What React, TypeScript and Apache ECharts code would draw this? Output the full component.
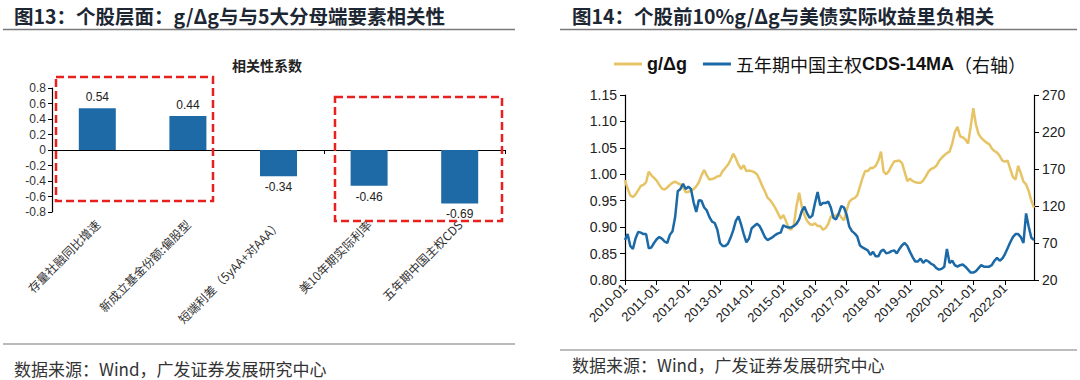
import React, { useEffect, useRef } from "react";
import * as echarts from "echarts";

// ---- Left chart data ----
const barCategories = [
  "存量社融同比增速",
  "新成立基金份额:偏股型",
  "短端利差（5yAA+对AAA）",
  "美10年期实际利率",
  "五年期中国主权CDS",
];
const barValues = [0.54, 0.44, -0.34, -0.46, -0.69];
const barYTicks = { min: -0.8, max: 0.8, interval: 0.2 };

// ---- Right chart data (monthly, 2010-01 .. 2022-12) ----
const startYear = 2010;
const endYear = 2022;
const months: string[] = [];
for (let y = startYear; y <= endYear; y++) {
  for (let m = 1; m <= 12; m++) months.push(`${y}-${m < 10 ? "0" + m : m}`);
}
const gdg = [
  0.989, 0.973, 0.96, 0.957, 0.962, 0.97, 0.978, 0.98, 0.985, 1.005, 0.998, 0.993,
  0.988, 0.98, 0.973, 0.971, 0.975, 0.98, 0.984, 0.986, 0.983, 0.981, 0.975, 0.966,
  0.967, 0.969, 0.972, 0.977, 0.985, 0.998, 1.008, 0.998, 0.99, 0.991, 0.993, 0.996,
  0.997, 1.006, 1.012, 1.018, 1.027, 1.039, 1.03, 1.018, 1.01, 1.017, 1.006, 1.007,
  1.006, 1.004, 1.0, 0.99, 0.978, 0.968, 0.956, 0.951, 0.944, 0.936, 0.926, 0.916,
  0.923, 0.912, 0.898, 0.895, 0.905, 0.94, 0.965, 0.939, 0.923, 0.912, 0.906, 0.904,
  0.907, 0.902, 0.902, 0.895, 0.898, 0.906, 0.92, 0.921, 0.922, 0.926, 0.918, 0.913,
  0.932, 0.948, 0.953, 0.955, 0.96, 0.976, 0.993, 1.006, 1.006, 1.012, 1.012, 1.016,
  1.026, 1.043, 1.005, 1.0, 1.006, 1.016, 1.024, 1.025, 1.026, 1.021, 1.004, 0.987,
  0.992, 0.987, 0.985, 0.984, 0.984, 0.988, 0.996, 1.005, 1.01, 1.012, 1.016, 1.025,
  1.031, 1.036, 1.04, 1.043, 1.058, 1.08, 1.09, 1.072, 1.07, 1.066, 1.058, 1.09,
  1.125, 1.094, 1.076, 1.069, 1.064, 1.06, 1.057, 1.049, 1.044, 1.041, 1.035, 1.026,
  1.024, 1.026, 1.01, 0.995, 0.99, 1.016, 1.002, 0.986, 0.981, 0.968, 0.95, 0.937,
];
const cds = [
  74, 82, 66, 62, 76, 85, 84, 82, 82, 63, 64, 70,
  75, 78, 76, 72, 70, 81, 86, 105, 140, 143, 150, 143,
  146, 143, 125, 112, 128, 127, 118, 114, 105, 99, 97, 88,
  70, 66, 66, 69, 77, 87, 100, 106, 95, 82, 71, 76,
  90, 93, 96, 93, 86, 78, 74, 76, 78, 81, 83, 84,
  94, 92, 91, 91, 93, 96, 102, 113, 119, 110, 104, 107,
  124, 139, 121, 124, 124, 126, 118, 104, 102, 110, 120, 118,
  108, 92, 86, 83, 79, 67, 64, 62, 60, 54, 58, 52,
  52, 59, 61, 56, 57, 59, 60, 56, 62, 67, 70, 66,
  58, 51, 45, 45, 49, 43, 47, 45, 42, 40, 36, 34,
  35, 38, 62, 43, 46, 40, 38, 40, 41, 38, 34, 30,
  30, 32, 36, 40, 38, 38, 38, 40, 46, 50, 46, 49,
  55, 63, 71, 78, 82, 82, 78, 70, 110, 92, 77, 74,
];
const leftAxis = { min: 0.8, max: 1.15, interval: 0.05 };
const rightAxis = { min: 20, max: 270, interval: 50 };
const seriesNames = ["g/Δg", "五年期中国主权CDS-14MA（右轴）"];

const titleLeft = "图13：个股层面：g/Δg与与5大分母端要素相关性";
const titleRight = "图14：个股前10%g/Δg与美债实际收益里负相关";
const footer = "数据来源：Wind，广发证券发展研究中心";
const barTitle = "相关性系数";

const SANS = "'Liberation Sans', Arial, sans-serif";
const CJK = "'Noto Sans CJK SC', sans-serif";
const YELLOW = "#E6C466";
const BLUE = "#1B69A6";
const BAR = "#1E6AA6";
const TITLE_COLOR = "#1c2733";

export default function App() {
  const ref = useRef<HTMLDivElement>(null);
  useEffect(() => {
    if (!ref.current) return;
    const chart = echarts.init(ref.current, undefined, { renderer: "svg" });
    const axisLineStyle = { color: "#000", width: 1.2 };
    const yearTick = (i: number) => i % 12 === 0;
    const option: any = {
      animation: false,
      backgroundColor: "#fff",
      graphic: [
        { type: "text", x: 14, y: 15, style: { text: titleLeft, font: `bold 19.5px ${CJK}`, fill: TITLE_COLOR, verticalAlign: "middle" } },
        { type: "text", x: 572, y: 15, style: { text: titleRight, font: `bold 19.5px ${CJK}`, fill: TITLE_COLOR, verticalAlign: "middle" } },
        { type: "line", shape: { x1: 3, y1: 29.5, x2: 515, y2: 29.5 }, style: { stroke: "#7a7a7a", lineWidth: 1.5 } },
        { type: "line", shape: { x1: 560, y1: 29.5, x2: 1077, y2: 29.5 }, style: { stroke: "#7a7a7a", lineWidth: 1.5 } },
        { type: "line", shape: { x1: 3, y1: 344, x2: 515, y2: 344 }, style: { stroke: "#7a7a7a", lineWidth: 1.2 } },
        { type: "line", shape: { x1: 560, y1: 350, x2: 1077, y2: 350 }, style: { stroke: "#7a7a7a", lineWidth: 1.2 } },
        { type: "text", left: 14, top: 360, style: { text: footer, font: `17px ${CJK}`, fill: "#333" } },
        { type: "text", left: 572, top: 356, style: { text: footer, font: `17px ${CJK}`, fill: "#333" } },
        { type: "text", x: 267, y: 65, style: { text: barTitle, font: `bold 14px ${CJK}`, fill: "#222", align: "center", verticalAlign: "middle" } },
        {
          type: "rect", z: 100, shape: { x: 56, y: 77, width: 157, height: 124 },
          style: { fill: "none", stroke: "#E8201E", lineWidth: 2.5, lineDash: [8, 4] },
        },
        {
          type: "rect", z: 100, shape: { x: 335, y: 97, width: 167, height: 124 },
          style: { fill: "none", stroke: "#E8201E", lineWidth: 2.5, lineDash: [8, 4] },
        },
      ],
      legend: {
        top: 50,
        left: 609,
        itemWidth: 28,
        itemHeight: 3,
        itemGap: 16,
        icon: "rect",
        data: seriesNames,
        formatter: (name: string) =>
          name === seriesNames[0] ? `{b|${name}}` : `{s|五年期中国主权}{b|CDS-14MA}{s|（右轴）}`,
        textStyle: {
          rich: {
            b: { fontFamily: SANS, fontWeight: "bold", fontSize: 18, color: "#111" },
            s: { fontFamily: CJK, fontSize: 18, color: "#111" },
          },
        },
      },
      grid: [
        { left: 52, top: 88, width: 453, height: 124 },
        { left: 625, top: 95, width: 409, height: 185 },
      ],
      xAxis: [
        {
          gridIndex: 0, type: "category", data: barCategories,
          axisLine: { onZero: true, lineStyle: axisLineStyle },
          axisTick: { show: true, length: 4, lineStyle: { color: "#000" } },
          axisLabel: { show: false },
        },
        {
          gridIndex: 0, type: "category", data: barCategories, position: "bottom",
          axisLine: { show: false, onZero: false },
          axisTick: { show: false },
          axisLabel: { interval: 0, rotate: 45, margin: 10, fontSize: 12, fontFamily: CJK, color: "#333" },
        },
        {
          gridIndex: 1, type: "category", data: months, boundaryGap: false,
          axisLine: { lineStyle: axisLineStyle },
          axisTick: { interval: yearTick, length: 5, lineStyle: { color: "#000" } },
          axisLabel: { interval: yearTick, rotate: 45, margin: 6, fontSize: 13, fontFamily: SANS, color: "#222" },
        },
      ],
      yAxis: [
        {
          gridIndex: 0, type: "value", ...barYTicks,
          axisLine: { show: true, lineStyle: axisLineStyle },
          axisTick: { show: true, length: 4, lineStyle: { color: "#000" } },
          splitLine: { show: false },
          axisLabel: {
            fontSize: 12, fontFamily: SANS, color: "#333", margin: 6,
            formatter: (v: number) => {
              const r = Math.round(v * 10) / 10;
              return r === 0 ? "0" : r.toFixed(1);
            },
          },
        },
        {
          gridIndex: 1, type: "value", ...leftAxis,
          axisLine: { show: true, lineStyle: axisLineStyle },
          axisTick: { show: true, length: 5, lineStyle: { color: "#000" } },
          splitLine: { show: false },
          axisLabel: { fontSize: 14, fontFamily: SANS, color: "#222", margin: 8, formatter: (v: number) => v.toFixed(2) },
        },
        {
          gridIndex: 1, type: "value", position: "right", ...rightAxis,
          axisLine: { show: true, lineStyle: axisLineStyle },
          axisTick: { show: true, length: 5, lineStyle: { color: "#000" } },
          splitLine: { show: false },
          axisLabel: { fontSize: 14, fontFamily: SANS, color: "#222", margin: 8 },
        },
      ],
      series: [
        {
          type: "bar", xAxisIndex: 0, yAxisIndex: 0, barWidth: 37,
          itemStyle: { color: BAR },
          data: barValues.map((v) => ({
            value: v,
            label: {
              show: true,
              position: v < 0 ? "bottom" : "top",
              distance: 5,
              fontSize: 12,
              fontFamily: SANS,
              color: "#222",
              formatter: (p: any) => p.value.toFixed(2),
            },
          })),
        },
        {
          name: seriesNames[0], type: "line", xAxisIndex: 2, yAxisIndex: 1, data: gdg,
          showSymbol: false, symbol: "none", itemStyle: { color: YELLOW },
          lineStyle: { color: YELLOW, width: 2.5 },
        },
        {
          name: seriesNames[1], type: "line", xAxisIndex: 2, yAxisIndex: 2, data: cds,
          showSymbol: false, symbol: "none", itemStyle: { color: BLUE },
          lineStyle: { color: BLUE, width: 2.5 },
        },
      ],
    };
    chart.setOption(option);
    return () => chart.dispose();
  }, []);
  return (
    <div
      ref={ref}
      style={{ position: "absolute", left: 0, top: 0, width: 1080, height: 380 }}
    />
  );
}
